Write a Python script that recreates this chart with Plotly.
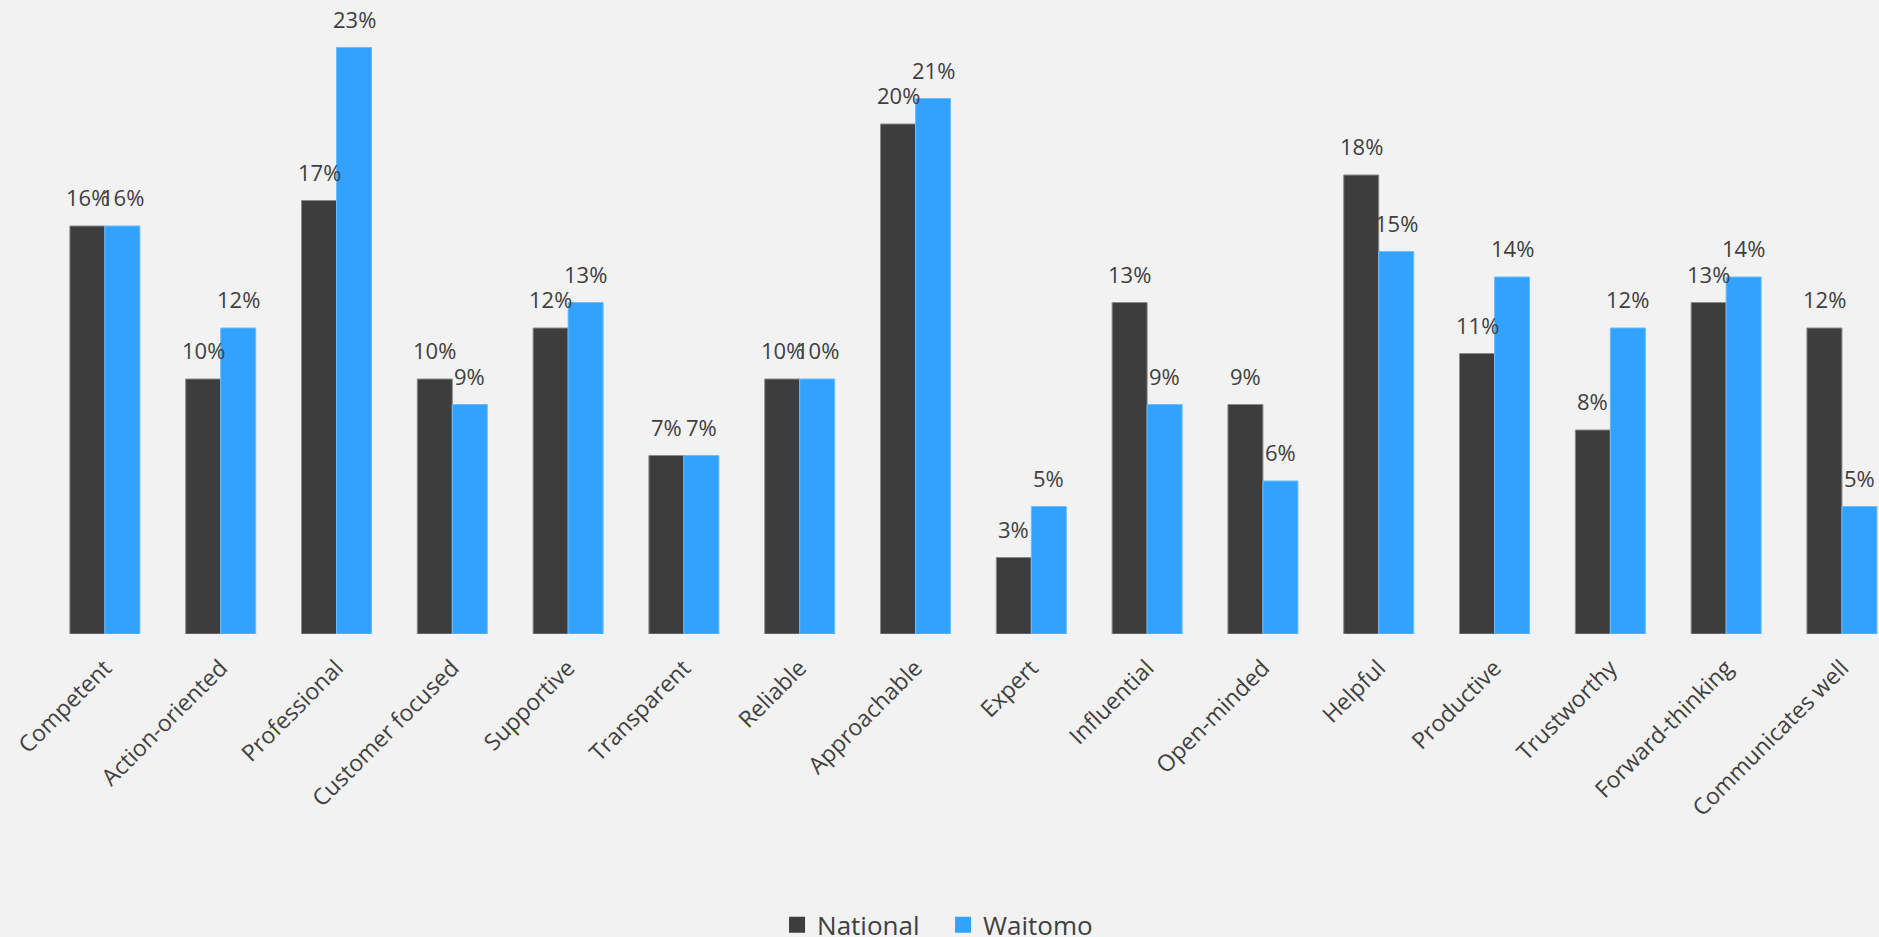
import plotly.graph_objects as go

categories = ["Competent", "Action-oriented", "Professional", "Customer focused", "Supportive",
              "Transparent", "Reliable", "Approachable", "Expert", "Influential", "Open-minded",
              "Helpful", "Productive", "Trustworthy", "Forward-thinking", "Communicates well"]
national = [0.16, 0.10, 0.17, 0.10, 0.12, 0.07, 0.10, 0.20, 0.03, 0.13, 0.09, 0.18, 0.11, 0.08, 0.13, 0.12]
waitomo = [0.16, 0.12, 0.23, 0.09, 0.13, 0.07, 0.10, 0.21, 0.05, 0.09, 0.06, 0.15, 0.14, 0.12, 0.14, 0.05]

FONT = "Open Sans"
TXT = "#404040"
BG = "#f2f2f2"
C_NAT = "#3d3d3d"
C_WAI = "#31a3ff"

fig = go.Figure()
fig.add_trace(go.Bar(x=categories, y=national, name="National", showlegend=False,
                     marker=dict(color=C_NAT, line=dict(color="#8a8a8a", width=1))))
fig.add_trace(go.Bar(x=categories, y=waitomo, name="Waitomo", showlegend=False,
                     marker=dict(color=C_WAI, line=dict(color="#6dbcff", width=1))))
# legend proxies with larger square symbols
for name, col in (("National", C_NAT), ("Waitomo", C_WAI)):
    fig.add_trace(go.Scatter(x=[None], y=[None], mode="markers", name=name,
                             marker=dict(symbol="square", size=16, color=col)))

annotations = []
for i, c in enumerate(categories):
    for val, shift in ((national[i], -17.5), (waitomo[i], 17.5)):
        annotations.append(dict(x=c, y=val, xref="x", yref="y", text=f"{round(val*100)}%",
                                showarrow=False, xshift=shift, yshift=12, yanchor="bottom",
                                font=dict(family=FONT, size=22, color=TXT)))

fig.update_layout(
    width=1879, height=937,
    margin=dict(l=47, r=0, t=22, b=303),
    paper_bgcolor=BG, plot_bgcolor=BG,
    barmode="group", bargap=0.3955, bargroupgap=0,
    annotations=annotations,
    font=dict(family=FONT, color=TXT),
    legend=dict(orientation="h", x=0.3985, xanchor="left", yref="container", y=0.013, yanchor="middle",
                font=dict(family=FONT, size=26, color=TXT), itemsizing="trace", itemwidth=30,
                entrywidth=121, entrywidthmode="pixels"),
    xaxis=dict(range=[-0.5, 15.32], tickangle=-45, tickfont=dict(family=FONT, size=23, color=TXT),
               showgrid=False, zeroline=False, showline=False, ticks="", ticklabelstandoff=15),
    yaxis=dict(range=[0, 0.24], showticklabels=False, showgrid=False, zeroline=False, showline=False),
)

fig.write_html("out.html")
